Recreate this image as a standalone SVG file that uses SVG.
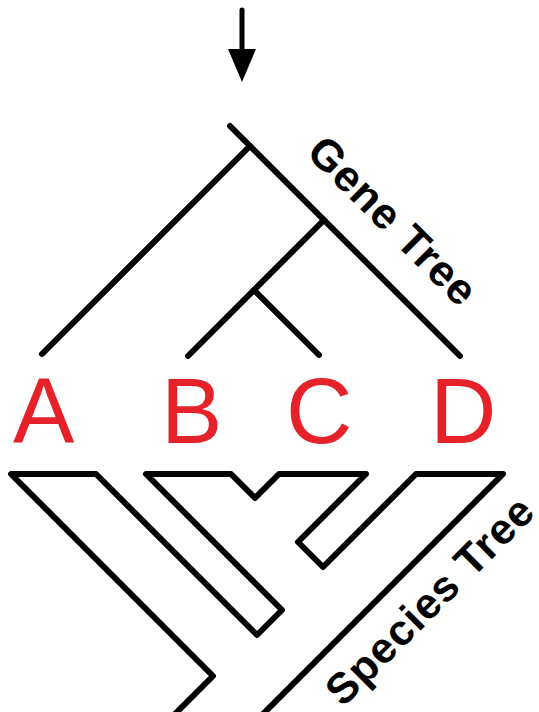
<svg xmlns="http://www.w3.org/2000/svg" width="539" height="712" viewBox="0 0 539 712">
<style>
.ln{fill:none;stroke:#000;stroke-width:6;stroke-linecap:round;stroke-linejoin:round}
.lbl{font-family:"Liberation Sans",Arial,sans-serif;font-size:92px;fill:#e52229}
.ttl{font-family:"Liberation Sans",Arial,sans-serif;font-weight:bold;fill:#000;letter-spacing:1px}
</style>
<rect width="539" height="712" fill="#fff"/>
<g id="connectors">
<line x1="242" y1="10" x2="242" y2="52" stroke="#000" stroke-width="5" stroke-linecap="round"/>
<polygon points="228,49 256,49 242,82" fill="#000"/>
</g>
<g id="gene-tree">
<line class="ln" x1="230" y1="126" x2="460" y2="356"/>
<line class="ln" x1="250" y1="146" x2="42" y2="354"/>
<line class="ln" x1="324" y1="220" x2="188" y2="356"/>
<line class="ln" x1="254" y1="290" x2="319" y2="355"/>
<text class="ttl" font-size="43.5" transform="translate(305,154) rotate(45)">Gene Tree</text>
</g>
<g id="species-tree">
<polyline class="ln" points="172,717 213,676 11,474 96,474 257,635 282,610 146,474 231,474 255,498 279,474 366,474 298,542 323,567 416,474 503,474 260,717"/>
<text class="ttl" font-size="43" transform="translate(343,708) rotate(-45)">Species Tree</text>
</g>
<g id="label-A"><text class="lbl" x="13" y="443">A</text></g>
<g id="label-B"><text class="lbl" x="161" y="443">B</text></g>
<g id="label-C"><text class="lbl" x="286" y="443">C</text></g>
<g id="label-D"><text class="lbl" x="430" y="443">D</text></g>
</svg>
